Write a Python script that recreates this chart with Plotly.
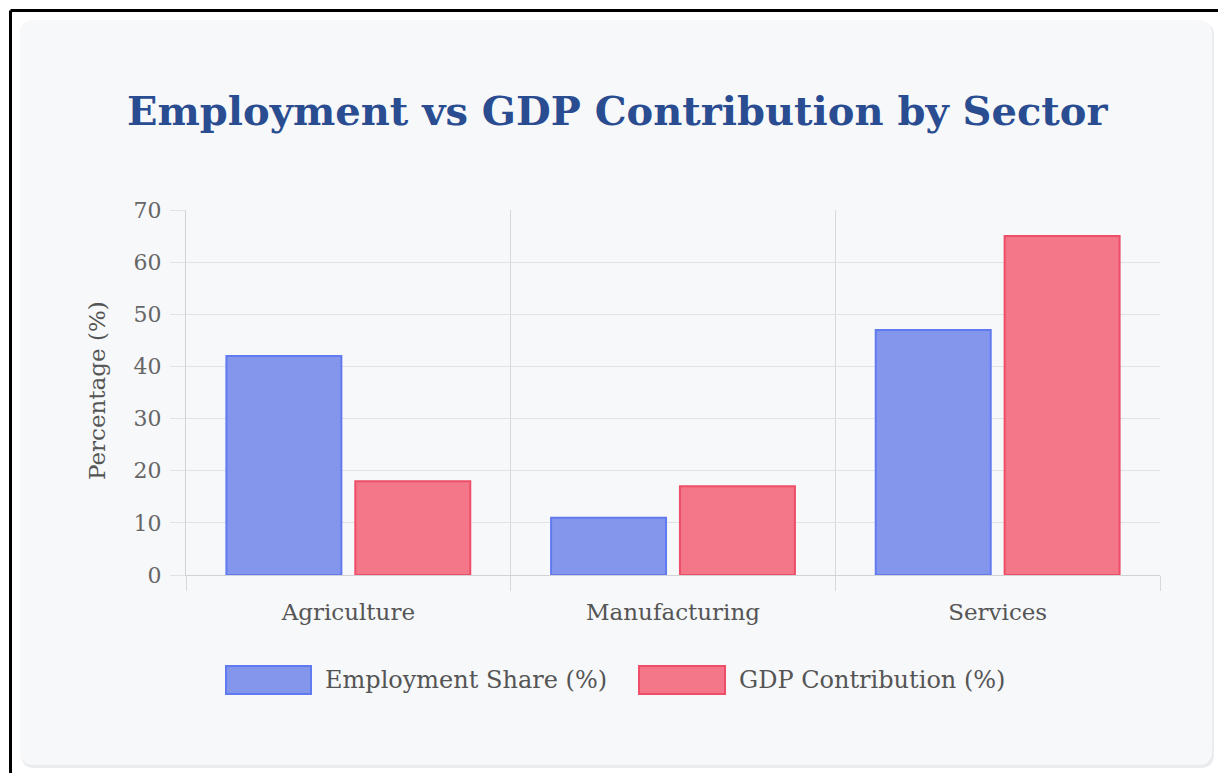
import plotly.graph_objects as go

categories = ["Agriculture", "Manufacturing", "Services"]
employment = [42, 11, 47]
gdp = [18, 17, 65]
series_names = ["Employment Share (%)", "GDP Contribution (%)"]
y_ticks = [0, 10, 20, 30, 40, 50, 60, 70]

W, H = 1218, 773
L, R, T, B = 186, 1160, 210, 575
PW, PH = R - L, B - T

def px(x):
    return (x - L) / PW

def py(y):
    return (B - y) / PH

FONT = "DejaVu Serif"
blue_fill = "rgb(131,150,235)"
blue_line = "rgb(98,122,240)"
red_fill = "rgb(243,119,137)"
red_line = "rgb(238,78,104)"
grid = "rgb(224,226,230)"
vgrid = "rgb(214,216,220)"

fig = go.Figure()
fig.add_trace(go.Bar(x=categories, y=employment, name=series_names[0],
                     marker=dict(color=blue_fill, line=dict(color=blue_line, width=2))))
fig.add_trace(go.Bar(x=categories, y=gdp, name=series_names[1],
                     marker=dict(color=red_fill, line=dict(color=red_line, width=2))))

shapes = []
# black frame lines (top and left)
shapes.append(dict(type="line", xref="paper", yref="paper", x0=px(10.5), x1=px(W + 5), y0=py(10.5), y1=py(10.5),
                   line=dict(color="black", width=3), layer="below"))
shapes.append(dict(type="line", xref="paper", yref="paper", x0=px(10.5), x1=px(10.5), y0=py(10.5), y1=py(H + 5),
                   line=dict(color="black", width=3), layer="below"))

def rounded(x0, y0, x1, y1, r):
    return (f"M {px(x0+r)} {py(y0)} L {px(x1-r)} {py(y0)} Q {px(x1)} {py(y0)} {px(x1)} {py(y0+r)} "
            f"L {px(x1)} {py(y1-r)} Q {px(x1)} {py(y1)} {px(x1-r)} {py(y1)} "
            f"L {px(x0+r)} {py(y1)} Q {px(x0)} {py(y1)} {px(x0)} {py(y1-r)} "
            f"L {px(x0)} {py(y0+r)} Q {px(x0)} {py(y0)} {px(x0+r)} {py(y0)} Z")

# card shadow and card
shapes.append(dict(type="path", xref="paper", yref="paper", path=rounded(21, 22, 1214, 768, 14),
                   fillcolor="rgb(234,235,238)", line=dict(width=0), layer="below"))
shapes.append(dict(type="path", xref="paper", yref="paper", path=rounded(20, 20, 1212, 765, 14),
                   fillcolor="rgb(247,248,250)", line=dict(width=0), layer="below"))

annotations = []
annotations.append(dict(text="<b>Employment vs GDP Contribution by Sector</b>", xref="paper", yref="paper",
                        x=px(617), y=py(110), xanchor="center", yanchor="middle", showarrow=False,
                        font=dict(family=FONT, size=40, color="rgb(42,76,145)")))
annotations.append(dict(text="Percentage (%)", xref="paper", yref="paper", x=px(97), y=py(391),
                        xanchor="center", yanchor="middle", textangle=-90, showarrow=False,
                        font=dict(family=FONT, size=23, color="rgb(85,85,85)")))

# legend (manual, large boxes)
legend_items = [(series_names[0], blue_fill, blue_line, 226, 311),
                (series_names[1], red_fill, red_line, 639, 725)]
for name, fc, lc, x0, x1 in legend_items:
    shapes.append(dict(type="rect", xref="paper", yref="paper", x0=px(x0), x1=px(x1), y0=py(666), y1=py(694),
                       fillcolor=fc, line=dict(color=lc, width=2)))
    annotations.append(dict(text=name, xref="paper", yref="paper", x=px(x1 + 12), y=py(680),
                            xanchor="left", yanchor="middle", showarrow=False,
                            font=dict(family=FONT, size=24, color="rgb(85,85,85)")))

fig.update_layout(
    width=W, height=H,
    margin=dict(l=L, r=W - R, t=T, b=H - B, pad=0),
    paper_bgcolor="white",
    plot_bgcolor="rgba(0,0,0,0)",
    barmode="group", bargap=0.206, bargroupgap=0.108,
    showlegend=False,
    shapes=shapes, annotations=annotations,
    font=dict(family=FONT, color="rgb(102,102,102)"),
)
fig.update_xaxes(tickson="boundaries", ticks="outside", ticklen=15, tickcolor=vgrid,
                 showgrid=True, gridcolor=vgrid, gridwidth=1,
                 showline=True, linecolor="rgb(208,210,214)", linewidth=1,
                 tickfont=dict(family=FONT, size=23, color="rgb(85,85,85)"), ticklabelstandoff=16)
fig.update_yaxes(range=[0, 70], tickvals=y_ticks, ticks="outside", ticklen=15, tickcolor=grid,
                 showgrid=True, gridcolor=grid, gridwidth=1, zeroline=False,
                 showline=True, linecolor="rgb(208,210,214)", linewidth=1,
                 tickfont=dict(family=FONT, size=22, color="rgb(102,102,102)"), ticklabelstandoff=4)

fig.write_html("out.html")
